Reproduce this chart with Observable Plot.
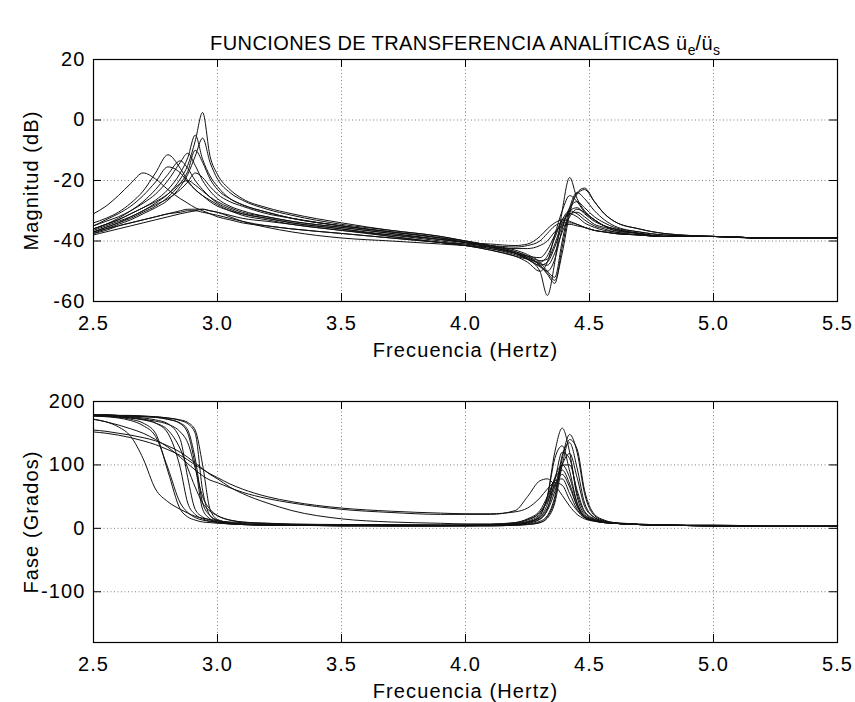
<!DOCTYPE html>
<html>
<head>
<meta charset="utf-8">
<script src="https://cdn.jsdelivr.net/npm/d3@7"></script>
<script src="https://cdn.jsdelivr.net/npm/@observablehq/plot@0.6"></script>
<style>
  body { margin: 0; background: #fff; font-family: "Liberation Sans", Arial, sans-serif; }
  #wrap { position: relative; width: 855px; height: 702px; background: #fff; }
  #title { position: absolute; z-index: 5; left: 93px; width: 744px; top: 33px; text-align: center;
           font-size: 20px; line-height: 20px; letter-spacing: 0.4px; color: #000; white-space: nowrap; }
  #title .sb { font-size: 14px; position: relative; top: 5px; letter-spacing: 0; }
  .panel { position: absolute; left: 0; z-index: 1; }
</style>
</head>
<body>
<div id="wrap">
  <div id="top" class="panel" style="top:0px"></div>
  <div id="bottom" class="panel" style="top:370px"></div>
  <div id="title">FUNCIONES DE TRANSFERENCIA ANALÍTICAS ü<span class="sb">e</span>/ü<span class="sb">s</span></div>
</div>
<script>
// Frequency grid (Hz)
const freq = [2.50,2.55,2.60,2.65,2.70, 2.75,2.80,2.85,2.88,2.91, 2.94,2.97,3.00,3.05,3.10, 3.20,3.30,3.50,3.70,3.90,
              4.00,4.10,4.20,4.25,4.30, 4.33,4.36,4.39,4.42,4.45, 4.48,4.52,4.56,4.60,4.70, 4.80,5.00,5.20,5.50];

// Magnitude (dB), one list per curve
const magnitudes = [
  [-37,-35.5,-34,-32,-30, -27.5,-24.5,-19.5,-15,-7, 2.5,-12,-18,-23,-26, -29,-31,-34,-36.5,-38.5, -40,-41.5,-43.5,-45,-48, -51,-54,-42,-30,-24.5, -23,-27,-31,-33.5,-36, -37.5,-38.5,-39,-39],
  [-36,-34.5,-33,-31,-29, -26.5,-23,-17.5,-12.5,-5, -13,-18.5,-22,-26,-28, -30.5,-32.5,-35,-37,-39, -40.5,-42,-44,-46,-50, -58,-47,-30,-19,-26, -30,-33,-35,-36,-37.5, -38.5,-38.5,-39,-39],
  [-37.5,-36,-34.5,-33,-31, -29,-26.5,-22,-18,-12, -6,-14,-19.5,-24,-26.5, -29.5,-31.5,-34.5,-36.5,-38.5, -40,-41.5,-43,-44.5,-47, -50,-52,-40,-29,-24, -26,-30,-33,-35,-37, -38,-38.5,-39,-39],
  [-35,-33.5,-32,-30,-27.5, -24.5,-20,-14,-11,-15, -20,-23.5,-26,-28.5,-30, -32,-33.5,-35.5,-37.5,-39.5, -40.5,-42,-44,-46,-48.5, -50,-46,-36,-29,-27, -29,-32,-34,-35.5,-37, -38,-38.5,-39,-39],
  [-36,-34.5,-32.5,-30,-27, -23,-18,-13.5,-16,-20, -23,-25.5,-27.5,-29.5,-31, -32.5,-34,-36,-38,-40, -41,-42.5,-44.5,-46,-48, -47,-42,-35,-30,-29, -31,-33.5,-35,-36.5,-37.5, -38.5,-38.5,-39,-39],
  [-34,-32.5,-30.5,-27.5,-23.5, -17.5,-11.5,-16,-20,-23, -25,-26.5,-28,-30,-31, -32.5,-34,-36,-38.5,-40.5, -41.5,-43,-45,-47,-50, -47,-38,-30,-25,-27, -30.5,-33,-35,-36,-37.5, -38.5,-38.5,-39,-39],
  [-35,-33,-31,-28.5,-25, -20.5,-15.5,-17.5,-20.5,-23, -25,-27,-28.5,-30,-31.5, -33,-34.5,-36.5,-38.5,-40.5, -41.5,-43,-45,-46,-47, -45,-39,-33,-30,-31, -33,-35,-36,-37,-38, -38.5,-38.5,-39,-39],
  [-31,-28.5,-25,-21,-17.5, -19.5,-23,-26,-27.5,-29, -30,-31,-32,-33,-34, -35,-36,-37.5,-39,-40.5, -41.5,-42.5,-44,-45,-45.5, -43,-38,-33,-31,-32, -34,-35.5,-36.5,-37,-38, -38.5,-38.5,-39,-39],
  [-36.5,-35,-33.5,-32,-30, -28,-26,-23,-20.5,-17.5, -19,-22,-24.5,-27,-28.5, -31,-32.5,-35,-37,-39, -40,-41.5,-43.5,-45,-46.5, -46,-41,-34,-31,-30.5, -32,-34.5,-35.5,-36.5,-37.5, -38.5,-38.5,-39,-39],
  [-37.5,-36.5,-35,-34,-33, -32,-31,-30,-29.5,-29.5, -29.5,-30,-30.5,-31.5,-32.5, -33.5,-34.5,-36.5,-38,-39.5, -40.5,-41,-41.5,-41,-38.5, -36,-34,-33,-33.5,-34.5, -35.5,-36.5,-37,-37.5,-38, -38.5,-38.5,-39,-39],
  [-37,-36,-35,-34,-33, -32,-31,-30.5,-30,-30, -30.5,-31,-31.5,-32.5,-33.5, -35,-36,-37.5,-39,-40.5, -41,-41.5,-42,-41.5,-40, -37.5,-35,-34,-34,-34.5, -35.5,-36.5,-37,-37.5,-38, -38.5,-38.5,-39,-39],
  [-38,-37,-36,-35,-34, -33,-32,-31,-30.5,-30, -29.5,-30,-30.5,-32,-33.5, -35.5,-37,-39,-40,-41, -41.5,-42,-42.5,-42.5,-41.5, -40,-37,-35,-34.5,-35, -35.5,-36.5,-37,-37.5,-38, -38.5,-38.5,-39,-39],
  [-36,-34.5,-33,-31,-29, -27,-24.5,-21,-20,-21.5, -23.5,-25.5,-27,-29,-30.5, -32,-33.5,-35.5,-37.5,-39.5, -40.5,-42,-44,-45.5,-47.5, -48,-44,-37,-32,-29.5, -30.5,-33,-35,-36,-37.5, -38.5,-38.5,-39,-39],
  [-37,-35.5,-34,-32.5,-30.5, -28.5,-25.5,-21,-17,-10, -14,-19.5,-23,-26,-28, -30.5,-32.5,-35,-37,-39, -40.5,-42,-44,-45.5,-48, -50.5,-53,-44,-31,-24, -22.5,-27,-31,-33.5,-36, -37.5,-38.5,-39,-39]
];

// Phase (degrees), one list per curve
const phases = [
  [179,179,178,178,177, 176,174,170,165,150, 60,20,12,8,6, 5,5,4,4,4, 4,4,5,6,9, 18,45,110,148,120, 55,20,12,9,6, 5,4,3,3],
  [179,179,178,177,176, 175,172,165,150,100, 30,15,10,7,6, 5,5,4,4,4, 4,5,6,9,20, 50,120,158,120,50, 22,13,10,8,6, 5,4,3,3],
  [179,179,178,178,177, 176,174,171,167,155, 100,30,14,9,7, 5,5,4,4,4, 4,4,5,7,11, 20,50,115,135,95, 40,17,11,8,6, 5,4,3,3],
  [178,178,177,176,174, 171,165,140,80,30, 18,13,10,8,7, 6,5,5,4,4, 4,5,6,8,14, 30,75,120,110,55, 25,14,10,8,6, 5,4,3,3],
  [178,177,176,175,172, 166,150,95,40,22, 15,11,9,7,6, 6,5,5,4,4, 5,5,7,10,18, 38,80,100,80,40, 20,13,10,8,6, 5,4,3,3],
  [178,177,175,172,166, 150,90,30,18,13, 10,9,8,7,6, 5,5,5,4,4, 5,5,7,11,22, 50,110,130,90,40, 18,12,9,8,6, 5,4,3,3],
  [177,176,174,170,162, 145,95,40,25,17, 13,11,10,8,7, 6,5,5,5,5, 5,6,8,13,25, 45,78,92,70,35, 18,12,9,8,6, 5,4,3,3],
  [172,168,160,145,110, 62,42,30,24,19, 16,14,12,10,9, 8,7,6,6,5, 5,6,9,15,28, 50,75,78,55,30, 17,12,9,8,6, 5,4,3,3],
  [177,177,176,174,172, 169,164,152,135,95, 50,30,20,13,10, 7,6,5,5,5, 5,5,7,10,17, 32,65,100,100,60, 27,15,10,8,6, 5,4,3,3],
  [172,168,163,157,150, 140,128,112,102,92, 83,76,72,64,57, 47,40,30,25,22, 22,22,28,50,75, 78,68,52,35,22, 15,11,9,8,6, 5,5,4,4],
  [152,150,147,143,138, 132,124,115,108,100, 93,86,80,70,62, 50,42,32,27,24, 23,23,26,32,48, 62,72,68,45,28, 17,12,10,8,6, 5,5,4,4],
  [155,153,150,147,143, 138,130,120,112,103, 94,85,78,65,55, 40,28,15,10,8, 7,7,9,14,25, 42,68,85,65,35, 18,12,9,8,6, 5,4,3,3],
  [178,177,176,174,171, 166,155,125,95,65, 40,27,20,13,10, 8,6,5,5,5, 5,5,6,9,15, 28,58,100,118,80, 35,17,11,8,6, 5,4,3,3],
  [179,178,178,177,176, 175,172,166,155,110, 40,20,13,9,7, 6,5,4,4,4, 4,4,5,6,9, 16,40,100,140,125, 60,22,13,9,7, 5,4,3,3]
];

const xTicks = [2.5, 3.0, 3.5, 4.0, 4.5, 5.0, 5.5];
const magTicks = [-60, -40, -20, 0, 20];
const phaseTicks = [-100, 0, 100, 200];
const xLabel = "Frecuencia (Hertz)";
const magLabel = "Magnitud (dB)";
const phaseLabel = "Fase (Grados)";

function panel({yDomain, yTicks, yLabel, series, height, marginTop, marginBottom}) {
  const rows = [];
  series.forEach((arr, c) => arr.forEach((v, i) => rows.push({f: freq[i], v, c})));
  const W = 855, mL = 93, mR = 18;
  const innerW = W - mL - mR;
  const innerH = height - marginTop - marginBottom;
  const tk = 8;
  const gridXT = xTicks.slice(1, -1);
  const gridYT = yTicks.filter(t => t > yDomain[0] && t < yDomain[1]);
  return Plot.plot({
    width: W, height, marginLeft: mL, marginRight: mR, marginTop, marginBottom,
    style: {fontFamily: "'Liberation Sans', Arial, sans-serif", fontSize: "20px", letterSpacing: "1.1px",
            color: "#000", background: "transparent", overflow: "visible"},
    x: {domain: [2.5, 5.5]},
    y: {domain: yDomain},
    marks: [
      Plot.gridX(gridXT, {stroke: "#808080", strokeOpacity: 1, strokeWidth: 1, strokeDasharray: "1,2.5"}),
      Plot.gridY(gridYT, {stroke: "#808080", strokeOpacity: 1, strokeWidth: 1, strokeDasharray: "1,2.5"}),
      Plot.line(rows, {x: "f", y: "v", z: "c", stroke: "#111", strokeWidth: 1, curve: "monotone-x"}),
      Plot.ruleX(xTicks, {x: d => d, insetBottom: innerH - tk, stroke: "#000"}),
      Plot.ruleX(xTicks, {x: d => d, insetTop: innerH - tk, stroke: "#000"}),
      Plot.ruleY(yTicks, {y: d => d, insetRight: innerW - tk, stroke: "#000"}),
      Plot.ruleY(yTicks, {y: d => d, insetLeft: innerW - tk, stroke: "#000"}),
      Plot.frame({stroke: "#000", strokeWidth: 1.2}),
      Plot.axisX(xTicks, {tickSize: 0, tickPadding: 14, tickFormat: d => d.toFixed(1), fontSize: 20, label: null}),
      Plot.axisY(yTicks, {tickSize: 0, tickPadding: 8, tickFormat: d => String(d), fontSize: 20, label: null}),
      Plot.text([xLabel], {text: d => d, frameAnchor: "bottom", textAnchor: "middle", lineAnchor: "bottom", dy: 55, fontSize: 20}),
      Plot.text([yLabel], {text: d => d, frameAnchor: "left", textAnchor: "middle", rotate: -90, lineAnchor: "top", dx: -70, fontSize: 20})
    ]
  });
}

document.getElementById("top").appendChild(panel({
  yDomain: [-60, 20], yTicks: magTicks, yLabel: magLabel, series: magnitudes,
  height: 370, marginTop: 59, marginBottom: 69
}));
document.getElementById("bottom").appendChild(panel({
  yDomain: [-180, 200], yTicks: phaseTicks, yLabel: phaseLabel, series: phases,
  height: 332, marginTop: 31, marginBottom: 60
}));
</script>
</body>
</html>
